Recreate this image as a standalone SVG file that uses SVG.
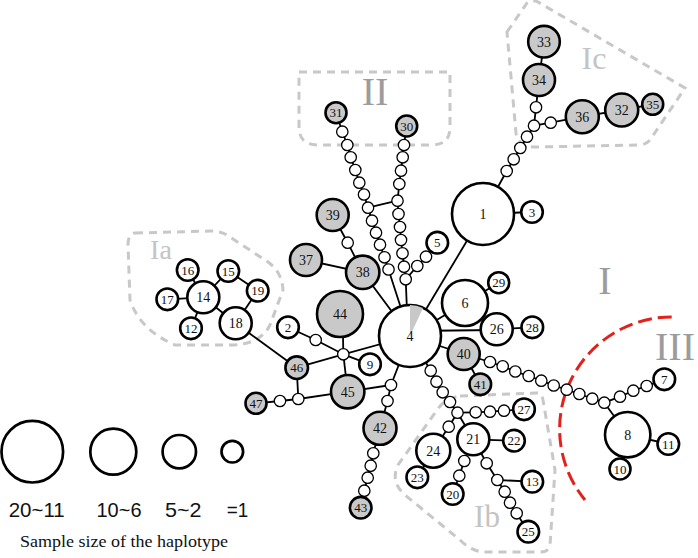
<svg xmlns="http://www.w3.org/2000/svg" width="698" height="558" viewBox="0 0 698 558">
<style>
.n{stroke:#000;stroke-width:2.6}
.w{fill:#fff}
.g{fill:#c9c9c9}
.s{fill:#fff;stroke:#000;stroke-width:1.3}
.e{stroke:#000;stroke-width:1.8;fill:none}
.t{font-family:"Liberation Serif",serif;font-size:13px;text-anchor:middle;fill:#111}
.tb{font-size:14px}
.grp{fill:none;stroke:#c8c8c8;stroke-width:3;stroke-dasharray:8 6}
.lg{font-family:"Liberation Serif",serif;text-anchor:middle}
.dk{fill:#9c9c9c;font-size:40px}
.lt{fill:#c4c4c4}
.leg{fill:none;stroke:#000;stroke-width:2.7}
.lt2{font-family:"Liberation Sans",sans-serif;font-size:21px;text-anchor:middle;fill:#111}
</style>

<g id="groups">
<path class="grp" d="M299,72 H450 V127 Q450,145 432,145 H318 Q299,145 299,127 Z"/>
<path class="grp" d="M507,32 L527,3 Q532,-1 538,2 L685,88 L652,137 Q648,145 638,145 L535,147 Q518,147 516,133 Z"/>
<path class="grp" d="M135,233 L210,231 Q222,231 230,237 L268,262 Q282,272 283,290 L270,325 Q260,345 230,345 L175,345 Q140,330 130,300 L128,245 Q128,234 135,233 Z"/>
<path class="grp" d="M460,396 L537,393 Q542,393 543,400 L555,470 L550,545 Q549,552 540,552 L482,552 Q470,550 460,540 L405,495 Q390,482 398,465 L437,410 Q445,398 460,396 Z"/>
<path d="M671.7,317 A112 112 0 0 0 585,500" fill="none" stroke="#e3211c" stroke-width="3" stroke-dasharray="14 6"/>
<text class="lg dk" x="375" y="105">II</text>
<text class="lg dk" x="605" y="294">I</text>
<text class="lg dk" x="655" y="360" text-anchor="start" style="text-anchor:start">III</text>
<text class="lg lt" x="594" y="69" font-size="32">Ic</text>
<text class="lg lt" x="161" y="259" font-size="28">Ia</text>
<text class="lg lt" x="487" y="527" font-size="31">Ib</text>
</g>

<g id="connectors">
<polyline class="e" points="336,112.7 342.3,131.7 347.3,145 350.7,157.3 355.3,170 359.3,182.7 364,194.5 368,207.7 372,220.7 376,232.7 380,244.7 384.5,257.3 388.5,269.5 410,336"/>
<polyline class="e" points="406.7,126 404,145 402.7,157.3 401,170.7 399.3,184 397.5,200.7 398.5,214 400,227 401,240 402.5,253.3 404,266.7 405.7,279.3 408,336"/>
<line class="e" x1="368" y1="207.7" x2="397.5" y2="200.7"/>
<polyline class="e" points="437.3,242.7 426,256.7 417.3,266 405.7,279.3"/>
<polyline class="e" points="332.7,215 347.7,242.7 362.7,272.3 410,336"/>
<line class="e" x1="306" y1="260" x2="362.7" y2="272.3"/>
<line class="e" x1="483" y1="214" x2="410" y2="336"/>
<line class="e" x1="483" y1="214" x2="532" y2="212"/>
<polyline class="e" points="483,214 506.7,171 513.7,159.3 520.3,148 527,136.7 534,125.7 536,107.3 539,80 544,41.7"/>
<polyline class="e" points="534,125.7 550.7,122.7 582.3,116.7 621.7,110 652.7,104.3"/>
<line class="e" x1="410" y1="336" x2="465" y2="303"/>
<line class="e" x1="465" y1="303" x2="498.7" y2="282.7"/>
<line class="e" x1="410" y1="331" x2="496.7" y2="330"/>
<line class="e" x1="496.7" y1="329.3" x2="532.3" y2="327.3"/>
<line class="e" x1="410" y1="336" x2="463.7" y2="354"/>
<line class="e" x1="463.7" y1="354" x2="480.3" y2="384.3"/>
<polyline class="e" points="463.7,354 490,362 502.7,366.3 515.3,371.5 528.7,376 541.3,380.7 553.7,385.5 566.7,389.7 579.3,394 592.3,398.7 604.3,402.7 620,396.7 633.3,390.7 646.7,386 664.3,379.3"/>
<line class="e" x1="604.3" y1="402.7" x2="627.7" y2="434.7"/>
<line class="e" x1="627.7" y1="434.7" x2="668.3" y2="444"/>
<line class="e" x1="627.7" y1="434.7" x2="620" y2="469"/>
<polyline class="e" points="410,336 430.7,370.7 436.5,381.7 442.7,392.3 450,402 457.5,412.7 475.7,412.3 490,411.7 504,410.7 524,409.3"/>
<line class="e" x1="457.5" y1="412.7" x2="473.3" y2="439.3"/>
<polyline class="e" points="457.5,412.7 448.7,426.7 433.3,450.7 417.3,477.3"/>
<line class="e" x1="473.3" y1="439.3" x2="514" y2="440.7"/>
<polyline class="e" points="473.3,439.3 464.3,461 459.3,475.7 452.7,494"/>
<polyline class="e" points="473.3,439.3 486.7,463.3 497.3,480 504.7,491.7 510,502.7 516.7,513.3 528.3,531.7"/>
<line class="e" x1="497.3" y1="480" x2="532.3" y2="481.7"/>
<polyline class="e" points="410,336 391,385 387.5,401 380,428.3 373.3,453.3 370.7,465.7 367.7,477.7 364.3,490.7 360.7,507.7"/>
<line class="e" x1="347.7" y1="391.7" x2="391" y2="385"/>
<line class="e" x1="342.7" y1="314" x2="343.3" y2="354.3"/>
<line class="e" x1="343.3" y1="354.3" x2="410" y2="336"/>
<polyline class="e" points="343.3,354.3 315.7,340 288,327.3"/>
<line class="e" x1="343.3" y1="354.3" x2="370" y2="364.3"/>
<line class="e" x1="343.3" y1="354.3" x2="347.7" y2="391.7"/>
<line class="e" x1="343.3" y1="354.3" x2="296.7" y2="367.7"/>
<line class="e" x1="235.7" y1="323.3" x2="296.7" y2="367.7"/>
<line class="e" x1="296.7" y1="367.7" x2="298.3" y2="399"/>
<line class="e" x1="298.3" y1="399" x2="347.7" y2="391.7"/>
<polyline class="e" points="298.3,399 280,401 256,403.3"/>
<line class="e" x1="203.3" y1="297.3" x2="187.7" y2="270"/>
<line class="e" x1="203.3" y1="297.3" x2="228.3" y2="271"/>
<line class="e" x1="228.3" y1="271" x2="257.7" y2="290.7"/>
<line class="e" x1="257.7" y1="290.7" x2="235.7" y2="323.3"/>
<line class="e" x1="203.3" y1="297.3" x2="235.7" y2="323.3"/>
<line class="e" x1="203.3" y1="297.3" x2="167.3" y2="299.3"/>
<line class="e" x1="203.3" y1="297.3" x2="191" y2="328.3"/>
<g id="steps">
<circle class="s" cx="342.3" cy="131.7" r="5.7"/><circle class="s" cx="347.3" cy="145" r="5.7"/><circle class="s" cx="350.7" cy="157.3" r="5.7"/><circle class="s" cx="355.3" cy="170" r="5.7"/><circle class="s" cx="359.3" cy="182.7" r="5.7"/><circle class="s" cx="364" cy="194.5" r="5.7"/><circle class="s" cx="368" cy="207.7" r="5.7"/><circle class="s" cx="372" cy="220.7" r="5.7"/><circle class="s" cx="376" cy="232.7" r="5.7"/><circle class="s" cx="380" cy="244.7" r="5.7"/><circle class="s" cx="384.5" cy="257.3" r="5.7"/><circle class="s" cx="388.5" cy="269.5" r="5.7"/>
<circle class="s" cx="404" cy="145" r="5.7"/><circle class="s" cx="402.7" cy="157.3" r="5.7"/><circle class="s" cx="401" cy="170.7" r="5.7"/><circle class="s" cx="399.3" cy="184" r="5.7"/><circle class="s" cx="397.5" cy="200.7" r="5.7"/><circle class="s" cx="398.5" cy="214" r="5.7"/><circle class="s" cx="400" cy="227" r="5.7"/><circle class="s" cx="401" cy="240" r="5.7"/><circle class="s" cx="402.5" cy="253.3" r="5.7"/><circle class="s" cx="404" cy="266.7" r="5.7"/><circle class="s" cx="405.7" cy="279.3" r="5.7"/>
<circle class="s" cx="426" cy="256.7" r="5.7"/><circle class="s" cx="417.3" cy="266" r="5.7"/>
<circle class="s" cx="347.7" cy="242.7" r="5.7"/>
<circle class="s" cx="506.7" cy="171" r="5.7"/><circle class="s" cx="513.7" cy="159.3" r="5.7"/><circle class="s" cx="520.3" cy="148" r="5.7"/><circle class="s" cx="527" cy="136.7" r="5.7"/><circle class="s" cx="534" cy="125.7" r="5.7"/><circle class="s" cx="536" cy="107.3" r="5.7"/><circle class="s" cx="550.7" cy="122.7" r="5.7"/>
<circle class="s" cx="490" cy="362" r="5.7"/><circle class="s" cx="502.7" cy="366.3" r="5.7"/><circle class="s" cx="515.3" cy="371.5" r="5.7"/><circle class="s" cx="528.7" cy="376" r="5.7"/><circle class="s" cx="541.3" cy="380.7" r="5.7"/><circle class="s" cx="553.7" cy="385.5" r="5.7"/><circle class="s" cx="566.7" cy="389.7" r="5.7"/><circle class="s" cx="579.3" cy="394" r="5.7"/><circle class="s" cx="592.3" cy="398.7" r="5.7"/><circle class="s" cx="604.3" cy="402.7" r="5.7"/>
<circle class="s" cx="620" cy="396.7" r="5.7"/><circle class="s" cx="633.3" cy="390.7" r="5.7"/><circle class="s" cx="646.7" cy="386" r="5.7"/>
<circle class="s" cx="430.7" cy="370.7" r="5.7"/><circle class="s" cx="436.5" cy="381.7" r="5.7"/><circle class="s" cx="442.7" cy="392.3" r="5.7"/><circle class="s" cx="450" cy="402" r="5.7"/><circle class="s" cx="457.5" cy="412.7" r="5.7"/><circle class="s" cx="475.7" cy="412.3" r="5.7"/><circle class="s" cx="490" cy="411.7" r="5.7"/><circle class="s" cx="504" cy="410.7" r="5.7"/><circle class="s" cx="448.7" cy="426.7" r="5.7"/><circle class="s" cx="464.3" cy="461" r="5.7"/><circle class="s" cx="459.3" cy="475.7" r="5.7"/><circle class="s" cx="486.7" cy="463.3" r="5.7"/><circle class="s" cx="497.3" cy="480" r="5.7"/><circle class="s" cx="504.7" cy="491.7" r="5.7"/><circle class="s" cx="510" cy="502.7" r="5.7"/><circle class="s" cx="516.7" cy="513.3" r="5.7"/>
<circle class="s" cx="391" cy="385" r="5.7"/><circle class="s" cx="387.5" cy="401" r="5.7"/><circle class="s" cx="373.3" cy="453.3" r="5.7"/><circle class="s" cx="370.7" cy="465.7" r="5.7"/><circle class="s" cx="367.7" cy="477.7" r="5.7"/><circle class="s" cx="364.3" cy="490.7" r="5.7"/>
<circle class="s" cx="343.3" cy="354.3" r="5.7"/><circle class="s" cx="315.7" cy="340" r="5.7"/><circle class="s" cx="298.3" cy="399" r="5.7"/><circle class="s" cx="280" cy="401" r="5.7"/>
</g>
</g>

<g id="n4"><circle class="n w" cx="410" cy="336" r="31" stroke-width="3"/><path d="M410,336 L410,305 A31 31 0 0 1 423,307.9 Z" fill="#c8c8c8"/><text class="t tb" x="410" y="341">4</text></g>
<g id="n1"><circle class="n w" cx="483" cy="214" r="31" stroke-width="3"/><text class="t tb" x="483" y="219">1</text></g>
<g id="n3"><circle class="n w" cx="532" cy="212" r="10.8"/><text class="t" x="532" y="216.5">3</text></g>
<g id="n5"><circle class="n w" cx="437.3" cy="242.7" r="10.8"/><text class="t" x="437.3" y="247.2">5</text></g>
<g id="n6"><circle class="n w" cx="465" cy="303" r="23"/><text class="t tb" x="465" y="308">6</text></g>
<g id="n29"><circle class="n w" cx="498.7" cy="282.7" r="10.5"/><text class="t" x="498.7" y="287.2">29</text></g>
<g id="n26"><circle class="n w" cx="496.7" cy="329.3" r="16"/><text class="t tb" x="496.7" y="334.3">26</text></g>
<g id="n28"><circle class="n w" cx="532.3" cy="327.3" r="10.8"/><text class="t" x="532.3" y="331.8">28</text></g>
<g id="n40"><circle class="n g" cx="463.7" cy="354" r="16"/><text class="t tb" x="463.7" y="359">40</text></g>
<g id="n41"><circle class="n g" cx="480.3" cy="384.3" r="10.8"/><text class="t" x="480.3" y="388.8">41</text></g>
<g id="n7"><circle class="n w" cx="664.3" cy="379.3" r="10.8"/><text class="t" x="664.3" y="383.8">7</text></g>
<g id="n8"><circle class="n w" cx="627.7" cy="434.7" r="22.7"/><text class="t tb" x="627.7" y="439.7">8</text></g>
<g id="n11"><circle class="n w" cx="668.3" cy="444" r="10.8"/><text class="t" x="668.3" y="448.5">11</text></g>
<g id="n10"><circle class="n w" cx="620" cy="469" r="10.5"/><text class="t" x="620" y="473.5">10</text></g>
<g id="n31"><circle class="n g" cx="336" cy="112.7" r="10.5"/><text class="t" x="336" y="117.2">31</text></g>
<g id="n30"><circle class="n g" cx="406.7" cy="126" r="10.5"/><text class="t" x="406.7" y="130.5">30</text></g>
<g id="n39"><circle class="n g" cx="332.7" cy="215" r="16"/><text class="t tb" x="332.7" y="220">39</text></g>
<g id="n37"><circle class="n g" cx="306" cy="260" r="16"/><text class="t tb" x="306" y="265">37</text></g>
<g id="n38"><circle class="n g" cx="362.7" cy="272.3" r="16.7"/><text class="t tb" x="362.7" y="277.3">38</text></g>
<g id="n44"><circle class="n g" cx="340" cy="314" r="23"/><text class="t tb" x="340" y="319">44</text></g>
<g id="n2"><circle class="n w" cx="288" cy="327.3" r="10.8"/><text class="t" x="288" y="331.8">2</text></g>
<g id="n9"><circle class="n w" cx="370" cy="364.3" r="10.8"/><text class="t" x="370" y="368.8">9</text></g>
<g id="n45"><circle class="n g" cx="347.7" cy="391.7" r="16.7"/><text class="t tb" x="347.7" y="396.7">45</text></g>
<g id="n46"><circle class="n g" cx="296.7" cy="367.7" r="11.3"/><text class="t" x="296.7" y="372.2">46</text></g>
<g id="n47"><circle class="n g" cx="256" cy="403.3" r="10.5"/><text class="t" x="256" y="407.8">47</text></g>
<g id="n42"><circle class="n g" cx="380" cy="428.3" r="16.5"/><text class="t tb" x="380" y="433.3">42</text></g>
<g id="n43"><circle class="n g" cx="360.7" cy="507.7" r="10.8"/><text class="t" x="360.7" y="512.2">43</text></g>
<g id="n27"><circle class="n w" cx="524" cy="409.3" r="10.8"/><text class="t" x="524" y="413.8">27</text></g>
<g id="n21"><circle class="n w" cx="473.3" cy="439.3" r="16"/><text class="t tb" x="473.3" y="444.3">21</text></g>
<g id="n24"><circle class="n w" cx="433.3" cy="450.7" r="17"/><text class="t tb" x="433.3" y="455.7">24</text></g>
<g id="n23"><circle class="n w" cx="417.3" cy="477.3" r="10.8"/><text class="t" x="417.3" y="481.8">23</text></g>
<g id="n22"><circle class="n w" cx="514" cy="440.7" r="10.8"/><text class="t" x="514" y="445.2">22</text></g>
<g id="n20"><circle class="n w" cx="452.7" cy="494" r="10.8"/><text class="t" x="452.7" y="498.5">20</text></g>
<g id="n13"><circle class="n w" cx="532.3" cy="481.7" r="10.8"/><text class="t" x="532.3" y="486.2">13</text></g>
<g id="n25"><circle class="n w" cx="528.3" cy="531.7" r="10.8"/><text class="t" x="528.3" y="536.2">25</text></g>
<g id="n14"><circle class="n w" cx="203.3" cy="297.3" r="16"/><text class="t tb" x="203.3" y="302.3">14</text></g>
<g id="n16"><circle class="n w" cx="187.7" cy="270" r="10.8"/><text class="t" x="187.7" y="274.5">16</text></g>
<g id="n15"><circle class="n w" cx="228.3" cy="271" r="10.8"/><text class="t" x="228.3" y="275.5">15</text></g>
<g id="n19"><circle class="n w" cx="257.7" cy="290.7" r="10.8"/><text class="t" x="257.7" y="295.2">19</text></g>
<g id="n17"><circle class="n w" cx="167.3" cy="299.3" r="10.8"/><text class="t" x="167.3" y="303.8">17</text></g>
<g id="n12"><circle class="n w" cx="191" cy="328.3" r="10.8"/><text class="t" x="191" y="332.8">12</text></g>
<g id="n18"><circle class="n w" cx="235.7" cy="323.3" r="16"/><text class="t tb" x="235.7" y="328.3">18</text></g>
<g id="n33"><circle class="n g" cx="544" cy="41.7" r="15.8"/><text class="t tb" x="544" y="46.7">33</text></g>
<g id="n34"><circle class="n g" cx="539" cy="80" r="16"/><text class="t tb" x="539" y="85">34</text></g>
<g id="n36"><circle class="n g" cx="582.3" cy="116.7" r="16.5"/><text class="t tb" x="582.3" y="121.7">36</text></g>
<g id="n32"><circle class="n g" cx="621.7" cy="110" r="16.5"/><text class="t tb" x="621.7" y="115">32</text></g>
<g id="n35"><circle class="n g" cx="652.7" cy="104.3" r="10.5"/><text class="t" x="652.7" y="108.8">35</text></g>

<g id="legend">
<circle class="leg" cx="32.3" cy="451.7" r="30.8"/>
<circle class="leg" cx="113.3" cy="451.7" r="23"/>
<circle class="leg" cx="179.3" cy="451.7" r="16.7"/>
<circle class="leg" cx="232.3" cy="451.7" r="10.8"/>
<text class="lt2" x="36.7" y="517.3" textLength="56" lengthAdjust="spacingAndGlyphs">20~11</text>
<text class="lt2" x="119" y="517.3" textLength="45" lengthAdjust="spacingAndGlyphs">10~6</text>
<text class="lt2" x="183.3" y="517.3" textLength="36.5" lengthAdjust="spacingAndGlyphs">5~2</text>
<text class="lt2" x="237.5" y="517.3" textLength="21.5" lengthAdjust="spacingAndGlyphs">=1</text>
<text x="20" y="546.7" font-family="Liberation Serif, serif" font-size="17" fill="#111" textLength="208" lengthAdjust="spacingAndGlyphs">Sample size of the haplotype</text>
</g>
</svg>
